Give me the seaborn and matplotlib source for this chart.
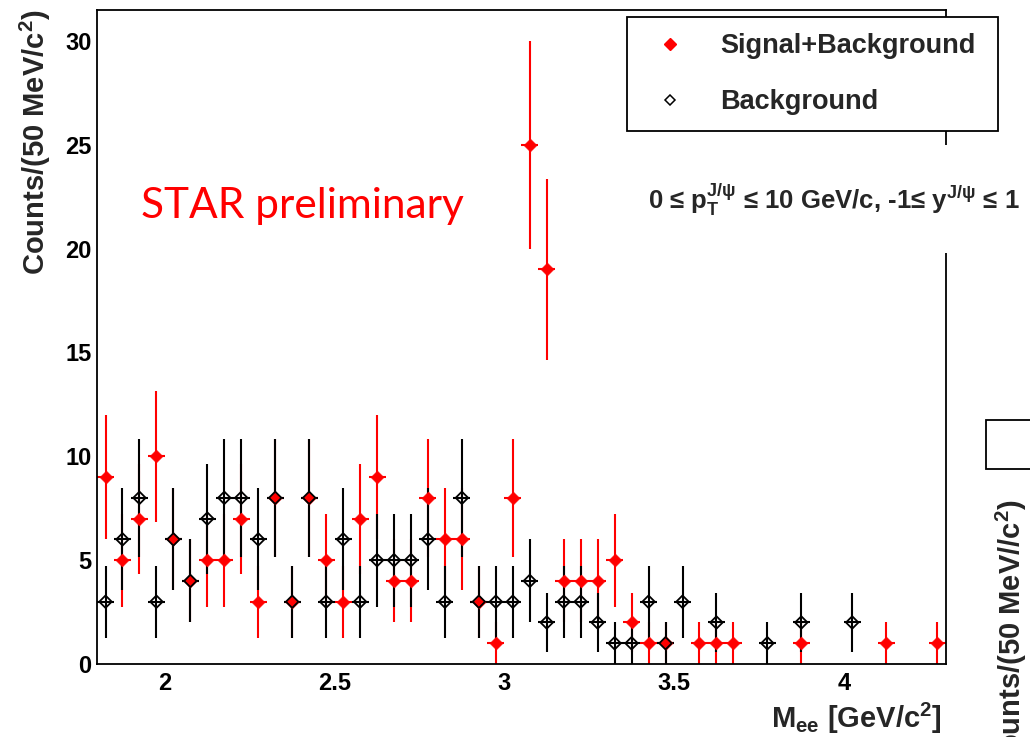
import numpy as np
import pandas as pd
import matplotlib
matplotlib.use('Agg')
import matplotlib.pyplot as plt
import seaborn as sns
from matplotlib.patches import Rectangle
from matplotlib.lines import Line2D
from matplotlib.ticker import MultipleLocator

# bin centres of the 50 MeV/c^2 histogram
mass = [1.825, 1.875, 1.925, 1.975, 2.025, 2.075, 2.125, 2.175, 2.225, 2.275,
        2.325, 2.375, 2.425, 2.475, 2.525, 2.575, 2.625, 2.675, 2.725, 2.775,
        2.825, 2.875, 2.925, 2.975, 3.025, 3.075, 3.125, 3.175, 3.225, 3.275,
        3.325, 3.375, 3.425, 3.475, 3.525, 3.575, 3.625, 3.675, 3.725, 3.775,
        3.825, 3.875, 3.925, 3.975, 4.025, 4.075, 4.125, 4.175, 4.225, 4.275]
sig_bkg = [9, 5, 7, 10, 6, 4, 5, 5, 7, 3, 8, 3, 8, 5, 3, 7, 9, 4, 4, 8,
           6, 6, 3, 1, 8, 25, 19, 4, 4, 4, 5, 2, 1, 1, 0, 1, 1, 1, 0, 0,
           0, 1, 0, 0, 0, 0, 1, 0, 0, 1]
bkg = [3, 6, 8, 3, 6, 4, 7, 8, 8, 6, 8, 3, 8, 3, 6, 3, 5, 5, 5, 6,
       3, 8, 3, 3, 3, 4, 2, 3, 3, 2, 1, 1, 3, 1, 3, 0, 2, 0, 0, 1,
       0, 2, 0, 0, 2, 0, 0, 0, 0, 0]
bin_width = 0.05

df = pd.DataFrame({'mass': mass, 'sig': sig_bkg, 'bkg': bkg})
df_s = df[df['sig'] > 0]
df_b = df[df['bkg'] > 0]

sns.set_theme(style='white')
plt.rcParams['font.family'] = ['Liberation Sans', 'DejaVu Sans']
plt.rcParams['font.weight'] = 'bold'
plt.rcParams['mathtext.fontset'] = 'custom'
plt.rcParams['mathtext.rm'] = 'Liberation Sans:bold'
plt.rcParams['mathtext.it'] = 'Liberation Sans:bold'
plt.rcParams['mathtext.bf'] = 'Liberation Sans:bold'

fig = plt.figure(figsize=(10.3, 7.37), dpi=100)
ax = fig.add_axes([0.0942, 0.099, 0.8238, 0.888])

# poisson errors, red drawn first, black on top
ax.errorbar(df_s['mass'], df_s['sig'], xerr=bin_width / 2, yerr=np.sqrt(df_s['sig']),
            fmt='none', ecolor='red', elinewidth=1.5, capsize=0, zorder=2)
ax.errorbar(df_b['mass'], df_b['bkg'], xerr=bin_width / 2, yerr=np.sqrt(df_b['bkg']),
            fmt='none', ecolor='black', elinewidth=1.5, capsize=0, zorder=3)
sns.scatterplot(data=df_s, x='mass', y='sig', ax=ax, marker='D', s=42,
                color='red', edgecolor='red', linewidth=0.5, zorder=4, legend=False)
sns.scatterplot(data=df_b, x='mass', y='bkg', ax=ax, marker='D', s=40,
                facecolor='none', edgecolor='black', linewidth=1.3, zorder=5, legend=False)

ax.set_xlim(1.8, 4.3)
ax.set_ylim(0, 31.5)
ax.xaxis.set_major_locator(MultipleLocator(0.5))
ax.xaxis.set_minor_locator(MultipleLocator(0.1))
ax.yaxis.set_major_locator(MultipleLocator(5))
ax.yaxis.set_minor_locator(MultipleLocator(1))
ax.set_xticks([2, 2.5, 3, 3.5, 4])
ax.set_xticklabels(['2', '2.5', '3', '3.5', '4'])
ax.tick_params(axis='both', which='both', direction='in', width=1.1, labelsize=17,
               colors='black')
ax.tick_params(axis='y', which='major', length=18.5, pad=4)
ax.tick_params(axis='y', which='minor', length=9.5)
ax.tick_params(axis='x', which='major', length=13.5, pad=6)
ax.tick_params(axis='x', which='minor', length=7)
for sp in ax.spines.values():
    sp.set_linewidth(1.3)
    sp.set_color('black')

ax.set_xlabel(r'M$_{ee}$ [GeV/c$^{2}$]', fontsize=21, fontweight='bold', loc='right')
ax.set_ylabel(r'Counts/(50 MeV/c$^{2}$)', fontsize=21, fontweight='bold', loc='top')
ax.yaxis.set_label_coords(-0.052, 1.0)
ax.xaxis.set_label_coords(0.995, -0.056)

ax.text(0.052, 0.682, 'STAR preliminary', transform=ax.transAxes, color='red',
        fontsize=30.5, fontweight='normal', family=['Lato', 'DejaVu Sans'])

# white pave behind the kinematic cut text, hides the frame there
fig.patches.append(Rectangle((0.615, 0.657), 0.4, 0.1465, transform=fig.transFigure,
                             facecolor='white', edgecolor='none', zorder=6))
fig.text(0.629, 0.716,
         r'0 ≤ p$_{T}^{J/\psi}$ ≤ 10 GeV/c, -1≤ y$^{J/\psi}$ ≤ 1',
         fontsize=18.5, fontweight='bold', va='baseline', ha='left', zorder=7)

handles = [Line2D([], [], marker='D', color='red', ls='none', markersize=6),
           Line2D([], [], marker='D', mfc='white', mec='black', mew=1.1, ls='none',
                  markersize=5.5)]
leg = fig.legend(handles, ['Signal+Background', 'Background'], loc='upper left',
                 bbox_to_anchor=(0.6087, 0.977, 0.3602, 0.0), mode='expand',
                 fontsize=19.5, frameon=True, fancybox=False, borderaxespad=0,
                 borderpad=0.6, labelspacing=1.1, handlelength=2.0, handletextpad=0.85)
leg.get_frame().set_edgecolor('black')
leg.get_frame().set_linewidth(1.3)
leg.get_frame().set_alpha(1)
leg.set_zorder(8)
for t in leg.get_texts():
    t.set_fontweight('bold')

# neighbouring panel peeking in at the right edge
fig.patches.append(Rectangle((0.957, 0.3636), 0.1, 0.0665, transform=fig.transFigure,
                             facecolor='white', edgecolor='black', linewidth=1.3, zorder=6))
fig.text(0.982, 0.322, r'Counts/(50 MeV//c$^{2}$)', rotation=90, ha='center', va='top',
         fontsize=21, fontweight='bold')

fig.savefig('out.png', dpi=100)
